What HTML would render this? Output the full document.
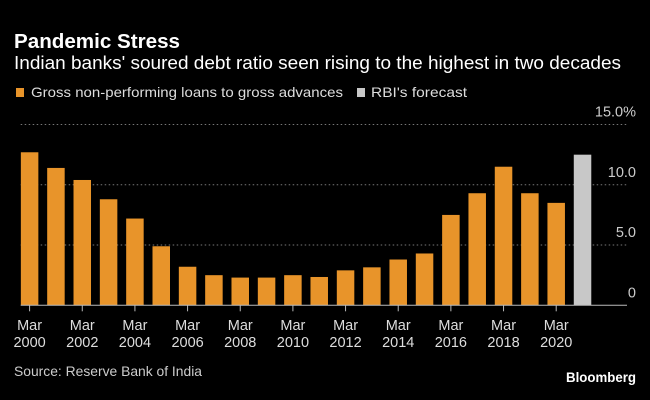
<!DOCTYPE html>
<html><head><meta charset="utf-8"><style>
body{margin:0;background:#000;}
svg{display:block;font-family:"Liberation Sans",sans-serif;}
</style></head><body>
<svg id="chart" width="650" height="400" viewBox="0 0 650 400">
<rect width="650" height="400" fill="#000"/>
<text x="14" y="48" fill="#fff" font-size="20" font-weight="bold" textLength="166" lengthAdjust="spacingAndGlyphs">Pandemic Stress</text>
<text x="14" y="69" fill="#fff" font-size="18.5" textLength="607" lengthAdjust="spacingAndGlyphs">Indian banks' soured debt ratio seen rising to the highest in two decades</text>
<rect x="16" y="88" width="8" height="9" fill="#e8942a"/>
<text x="31" y="97" fill="#ddd" font-size="14" textLength="312" lengthAdjust="spacingAndGlyphs">Gross non-performing loans to gross advances</text>
<rect x="357" y="88" width="8" height="9" fill="#c8c8c8"/>
<text x="371" y="97" fill="#ddd" font-size="14" textLength="96" lengthAdjust="spacingAndGlyphs">RBI's forecast</text>
<g id="grid"></g><g id="bars"></g><g id="xaxis"></g>
<text x="14" y="376" fill="#ccc" font-size="14" textLength="188" lengthAdjust="spacingAndGlyphs">Source: Reserve Bank of India</text>
<text x="636" y="382" fill="#fff" font-size="14" font-weight="bold" text-anchor="end" textLength="70" lengthAdjust="spacingAndGlyphs">Bloomberg</text>
</svg>
<script>
const years=[2000,2001,2002,2003,2004,2005,2006,2007,2008,2009,2010,2011,2012,2013,2014,2015,2016,2017,2018,2019,2020,2021];
const values=[12.7,11.4,10.4,8.8,7.2,4.9,3.2,2.5,2.3,2.3,2.5,2.35,2.9,3.15,3.8,4.3,7.5,9.3,11.5,9.3,8.5,12.5];
const isForecast=[0,0,0,0,0,0,0,0,0,0,0,0,0,0,0,0,0,0,0,0,0,1];
const yTicks=[0,5,10,15];
const yTickLabels=["0","5.0","10.0","15.0%"];
const NS="http://www.w3.org/2000/svg";
const y0=305.3,pxPer=12.05,x0=29.6,step=26.33,bw=17.5,xStart=20.7,xEnd=627;
const yS=v=>y0-v*pxPer;
const xS=i=>x0+i*step;
function mk(t,a,p){const e=document.createElementNS(NS,t);for(const k in a)e.setAttribute(k,a[k]);p.appendChild(e);return e;}
const grid=document.getElementById('grid'),bars=document.getElementById('bars'),xa=document.getElementById('xaxis');
yTicks.forEach((v,i)=>{
  if(v>0){const l=mk('line',{x1:xStart,x2:xEnd,y1:yS(v),y2:yS(v),stroke:'#777','stroke-width':1,'stroke-dasharray':'1.5,2.5'},grid);
  
  }
  const t=mk('text',{x:636,y:yS(v)-8,fill:'#ccc','font-size':14.5,'text-anchor':'end'},grid);
  t.textContent=yTickLabels[i];
  
  
});
values.forEach((v,i)=>{
  const r=mk('rect',{x:xS(i)-bw/2,y:yS(v),width:bw,height:y0-yS(v),fill:isForecast[i]?'#c8c8c8':'#e8942a'},bars);
  
  
});
const base=mk('line',{x1:xStart,x2:xEnd,y1:y0,y2:y0,stroke:'#bbb','stroke-width':1},xa);


years.forEach((yr,i)=>{
  if(isForecast[i]||yr%2)return;
  const x=xS(i);
  const tk=mk('line',{x1:x,x2:x,y1:y0,y2:y0+6,stroke:'#bbb'},xa);
  
  
  const t1=mk('text',{x:x,y:330,fill:'#ddd','font-size':14.5,'text-anchor':'middle'},xa);
  t1.textContent='Mar';
  
  
  const t2=mk('text',{x:x,y:347,fill:'#ddd','font-size':14.5,'text-anchor':'middle'},xa);
  t2.textContent=String(yr);
  
  
});
</script>
</body></html>
